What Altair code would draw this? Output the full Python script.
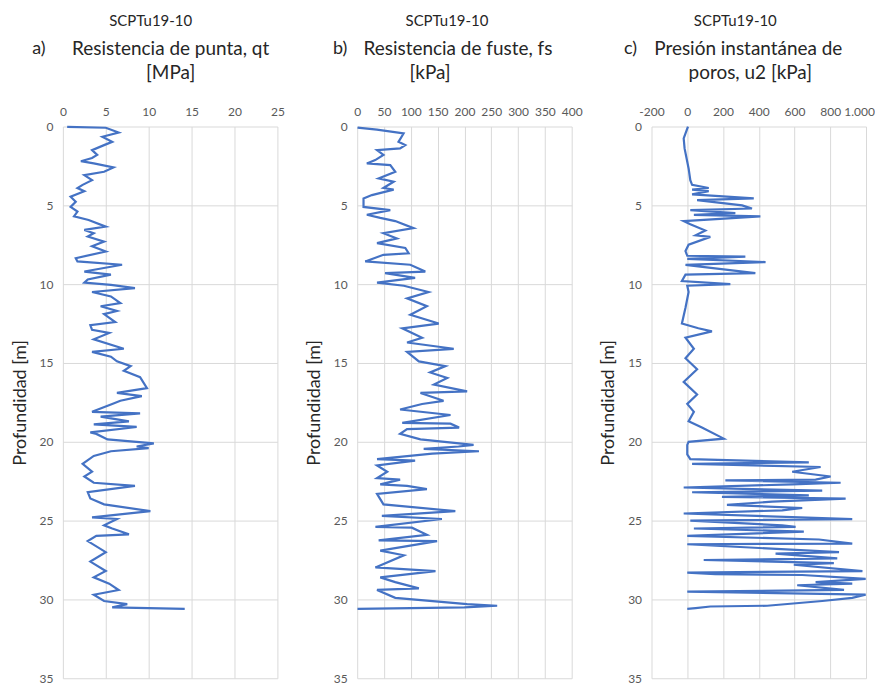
import altair as alt
import pandas as pd

# ---- Panel a: qt [MPa] ----
qt_depth = [0.02, 0.08, 0.38, 0.65, 0.97, 1.18, 1.5, 1.8, 2.0, 2.2, 2.34, 2.6, 2.87, 3.08, 3.4, 3.7, 3.9, 4.1,
            4.45, 4.77, 5.1, 5.4, 5.7, 5.93, 6.35, 6.56, 6.77, 6.98, 7.3, 7.6, 7.93, 8.35, 8.56, 8.77, 9.2, 9.4,
            9.7, 9.9, 10.05, 10.25, 10.5, 10.78, 11.2, 11.4, 11.7, 11.9, 12.4, 12.6, 12.9, 13.1, 13.5, 14.1, 14.3,
            14.6, 14.9, 15.2, 15.5, 15.9, 16.6, 16.9, 17.1, 17.4, 17.6, 18.1, 18.2, 18.4, 18.7, 18.9, 19.06, 19.4,
            19.5, 19.85, 20.1, 20.3, 20.4, 20.6, 20.9, 21.4, 21.9, 22.2, 22.6, 22.8, 23.2, 23.6, 23.97, 24.4, 24.8,
            24.9, 25.3, 25.5, 25.87, 25.97, 26.3, 27.0, 27.6, 28.2, 28.6, 29.0, 29.4, 29.7, 30.1, 30.3, 30.5, 30.6]
qt_value = [0.5, 5.0, 6.5, 4.6, 5.75, 4.8, 3.4, 4.0, 3.4, 2.1, 3.6, 5.9, 4.8, 2.5, 3.4, 2.3, 1.7, 2.5,
            0.9, 1.5, 0.9, 1.7, 1.3, 3.0, 5.0, 2.5, 3.6, 2.9, 4.8, 3.4, 5.0, 1.5, 1.7, 6.9, 2.5, 5.6,
            2.9, 2.5, 5.6, 8.4, 3.4, 5.6, 6.7, 4.4, 6.3, 4.8, 6.1, 3.2, 3.4, 5.4, 3.6, 7.1, 3.4,
            5.6, 6.3, 7.9, 7.1, 9.0, 9.8, 6.3, 9.2, 6.7, 5.75, 3.4, 9.0, 4.4, 7.7, 3.6, 8.6, 3.2,
            3.9, 5.2, 10.6, 8.6, 10.0, 5.6, 3.6, 2.3, 3.4, 2.5, 3.6, 8.4, 2.9, 3.2, 4.8, 10.2, 3.4,
            6.3, 4.8, 5.75, 7.7, 3.9, 2.9, 5.0, 3.2, 5.0, 3.6, 5.4, 6.5, 3.6, 4.8, 7.5, 5.75, 14.2]

# ---- Panel b: fs [kPa] ----
fs_depth = [0.07, 0.2, 0.44, 0.97, 1.18, 1.39, 1.5, 1.8, 2.13, 2.34, 2.45, 2.87, 3.29, 3.5, 3.9, 4.0, 4.35, 4.56,
            5.1, 5.3, 5.6, 5.8, 6.0, 6.45, 6.77, 7.1, 7.4, 7.7, 8.04, 8.14, 8.56, 8.77, 9.2, 9.3, 9.6, 9.9, 10.1,
            10.5, 10.9, 11.4, 11.94, 12.5, 12.8, 13.4, 13.7, 14.1, 14.3, 14.9, 15.2, 15.6, 15.95, 16.37, 16.8,
            16.9, 17.4, 17.6, 17.95, 18.3, 18.8, 18.85, 19.1, 19.2, 19.5, 19.85, 20.2, 20.3, 20.45, 20.6, 20.75,
            21.1, 21.2, 21.5, 21.9, 22.3, 22.4, 22.7, 22.8, 23.0, 23.3, 23.97, 24.4, 24.7, 24.9, 25.4, 25.45,
            25.9, 26.25, 26.3, 26.9, 27.2, 27.97, 28.2, 28.6, 28.9, 29.3, 29.4, 29.9, 30.3, 30.4, 30.5, 30.6]
fs_value = [0.6, 36.8, 86.5, 77, 89.7, 80, 37, 49, 33.6, 18, 61.7, 71, 40, 68, 49, 68, 27.4, 11.8,
            11.8, 61.7, 18, 43, 71, 105, 49, 74, 37, 89.7, 96, 49, 15, 99, 127, 52, 108, 37, 87,
            133, 93, 130, 99, 152, 84, 121, 93, 180, 93, 115, 164.5, 136, 168, 143, 205,
            118, 161, 121, 80, 174, 84, 174, 190, 93, 80, 118, 217, 189, 124, 227, 140,
            37, 108, 37, 56, 37, 80, 43, 93, 130, 37, 49, 183, 46, 158, 34, 102,
            130, 40, 149, 43, 87, 34, 146, 43, 71, 115, 37, 71, 205, 261, 200, 0.6]

# ---- Panel c: u2 [kPa] ----
u2_depth = [0.0, 0.76, 1.39, 2.66, 3.4, 3.7, 3.9, 4.0, 4.1, 4.3, 4.56, 4.67, 5.0, 5.2, 5.3, 5.5, 5.6, 5.7,
            6.0, 6.2, 6.6, 6.9, 7.0, 7.5, 7.9, 8.2, 8.25, 8.4, 8.6, 8.78, 9.3, 9.4, 9.8, 10.0, 10.1, 10.5,
            11.5, 12.5, 12.8, 13.0, 13.4, 14.1, 14.7, 15.4, 16.2, 17.0, 17.6, 18.1, 18.7, 19.1, 19.8, 20.0,
            20.2, 20.8, 21.1, 21.3, 21.4, 21.6, 21.9, 22.2, 22.4, 22.45, 22.6, 22.7, 22.9, 23.1, 23.2, 23.4,
            23.5, 23.6, 23.8, 24.0, 24.2, 24.35, 24.55, 24.9, 25.0, 25.3, 25.4, 25.5, 25.7, 25.97, 26.2,
            26.46, 26.5, 27.0, 27.1, 27.4, 27.5, 27.7, 27.8, 28.2, 28.3, 28.4, 28.45, 28.7, 28.9, 29.0,
            29.1, 29.4, 29.5, 29.7, 29.9, 30.1, 30.4, 30.45, 30.55, 30.6]
u2_value = [4, -20, -15, 7.5, 17, 27, 120, 27, 120, 27, 372, 55, 307, 362, 17, 269, 37, 409,
            -20, 17, 101, 47, 129, 7.5, -10, 0, 325, 0, 438, -10, 381, -10, -30, 241, 0, 7.5,
            -10, -30, 62, 138, -10, 37, -10, 55, -20, 55, 0, 37, 7.5, 82, 204, 7.5,
            0, 0, 17, 680, 27, 746, 587, 802, 718, 213, 858, 587, -20, 755, 27, 680,
            194, 886, 475, 222, 643, 531, -20, 923, 17, 531, 606, 37, 652, 0, 737,
            923, 0, 849, 494, 839, 92, 820, 596, 980, 0, 157, 643, 998, 718, 923,
            615, 877, 0, 998, 923, 755, 447, 129, 47, 0]

depth_ticks = [0, 5, 10, 15, 20, 25, 30, 35]
qt_ticks = [0, 5, 10, 15, 20, 25]
fs_ticks = [0, 50, 100, 150, 200, 250, 300, 350, 400]
u2_ticks = [-200, 0, 200, 400, 600, 800, 1000]

FONT = "Lato"
LINE = "#4472C4"
W, H = 215, 553


def text_layer(txt, x, y, size):
    return alt.Chart(pd.DataFrame({"t": [txt]})).mark_text(
        font=FONT, fontSize=size, color="#262626", align="center", baseline="middle"
    ).encode(text="t:N", x=alt.value(x), y=alt.value(y))


def panel(depth, value, domain, ticks, letter, letter_x, lines, line_xs):
    df = pd.DataFrame({"d": depth, "v": value, "i": list(range(len(depth)))})
    line = alt.Chart(df).mark_line(color=LINE, strokeWidth=2.2).encode(
        x=alt.X("v:Q", scale=alt.Scale(domain=domain, nice=False, zero=False),
                axis=alt.Axis(orient="top", values=ticks, title=None, ticks=False, domain=False,
                              labelPadding=8, labelFontSize=12, labelFont=FONT, labelColor="#595959",
                              labelOverlap=False, labelFlush=False, gridColor="#D9D9D9",
                              labelOffset=alt.condition("datum.value == 1000", alt.value(-7),
                                                        alt.value(0)),
                              labelExpr="datum.value == 1000 ? '1.000' : '' + datum.value")),
        y=alt.Y("d:Q", scale=alt.Scale(domain=[0, 35], reverse=True, nice=False, zero=False),
                axis=alt.Axis(values=depth_ticks, title="Profundidad [m]", ticks=False, domain=False,
                              labelPadding=10, labelFontSize=12, labelFont=FONT, labelColor="#595959",
                              labelOverlap=False, labelFlush=False,
                              titleFont=FONT, titleFontSize=18, titleFontWeight="normal",
                              titleColor="#262626", titlePadding=10, gridColor="#D9D9D9")),
        order="i:Q",
    )
    layers = [line,
              text_layer("SCPTu19-10", line_xs[0], -106, 15),
              text_layer(letter, letter_x, -78, 18),
              text_layer(lines[0], line_xs[1], -78, 19),
              text_layer(lines[1], line_xs[2], -54, 19)]
    return alt.layer(*layers).properties(width=W, height=H)


a = panel(qt_depth, qt_value, [0, 25], qt_ticks, "a)", -24,
          ["Resistencia de punta, qt", "[MPa]"], [88, 108, 108])
b = panel(fs_depth, fs_value, [0, 400], fs_ticks, "b)", -17,
          ["Resistencia de fuste, fs", "[kPa]"], [90, 101, 73])
c = panel(u2_depth, u2_value, [-200, 1000], u2_ticks, "c)", -21,
          ["Presión instantánea de", "poros, u2 [kPa]"], [84, 97, 99])

chart = alt.hconcat(a, b, c, spacing=80, bounds="flush").configure_view(stroke=None).properties(
    padding={"left": 3, "top": 5, "right": 0, "bottom": 5}
)

chart.save("out.html", embed_options={"renderer": "svg", "actions": False})
